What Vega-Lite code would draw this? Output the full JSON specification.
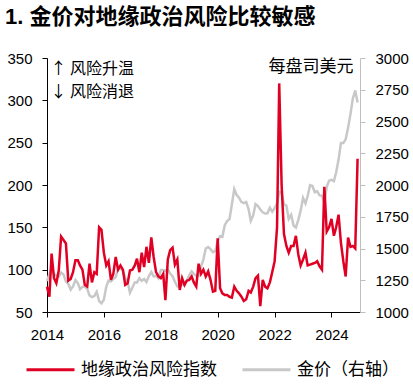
{
  "$schema": "https://vega.github.io/schema/vega-lite/v6.json",
  "width": 313,
  "height": 254,
  "autosize": {"type": "none"},
  "padding": {"left": 47, "top": 58, "right": 53, "bottom": 74},
  "background": "white",
  "config": {
    "view": {"stroke": null},
    "font": "Liberation Sans, Noto Sans CJK SC",
    "axis": {"grid": false, "labelColor": "#000000", "labelFont": "Liberation Sans", "labelFontSize": 15, "tickSize": 5, "labelPadding": 9, "domainColor": "#000000", "tickColor": "#000000", "titleColor": "#000000"}
  },
  "title": {
    "text": "1. 金价对地缘政治风险比较敏感",
    "anchor": "start",
    "frame": "group",
    "dx": -42,
    "offset": 22,
    "fontSize": 22,
    "fontWeight": "bold",
    "font": "Liberation Sans, Noto Sans CJK SC",
    "color": "#000000"
  },
  "datasets": {
    "risk": [
      {"date":"2014-01","value":80},{"date":"2014-02","value":68},{"date":"2014-03","value":119},{"date":"2014-04","value":90},{"date":"2014-05","value":84},{"date":"2014-06","value":99},{"date":"2014-07","value":139},{"date":"2014-08","value":135},{"date":"2014-09","value":131},{"date":"2014-10","value":87},{"date":"2014-11","value":89},{"date":"2014-12","value":97},
      {"date":"2015-01","value":111},{"date":"2015-02","value":111},{"date":"2015-03","value":105},{"date":"2015-04","value":100},{"date":"2015-05","value":82},{"date":"2015-06","value":80},{"date":"2015-07","value":107},{"date":"2015-08","value":85},{"date":"2015-09","value":97},{"date":"2015-10","value":95},{"date":"2015-11","value":150},{"date":"2015-12","value":147},
      {"date":"2016-01","value":120},{"date":"2016-02","value":105},{"date":"2016-03","value":110},{"date":"2016-04","value":88},{"date":"2016-05","value":95},{"date":"2016-06","value":115},{"date":"2016-07","value":100},{"date":"2016-08","value":105},{"date":"2016-09","value":100},{"date":"2016-10","value":82},{"date":"2016-11","value":84},{"date":"2016-12","value":99},
      {"date":"2017-01","value":100},{"date":"2017-02","value":105},{"date":"2017-03","value":113},{"date":"2017-04","value":97},{"date":"2017-05","value":120},{"date":"2017-06","value":103},{"date":"2017-07","value":127},{"date":"2017-08","value":108},{"date":"2017-09","value":138},{"date":"2017-10","value":115},{"date":"2017-11","value":97},{"date":"2017-12","value":92},
      {"date":"2018-01","value":90},{"date":"2018-02","value":95},{"date":"2018-03","value":64},{"date":"2018-04","value":112},{"date":"2018-05","value":123},{"date":"2018-06","value":126},{"date":"2018-07","value":106},{"date":"2018-08","value":112},{"date":"2018-09","value":76},{"date":"2018-10","value":90},{"date":"2018-11","value":82},{"date":"2018-12","value":87},
      {"date":"2019-01","value":88},{"date":"2019-02","value":92},{"date":"2019-03","value":85},{"date":"2019-04","value":80},{"date":"2019-05","value":107},{"date":"2019-06","value":95},{"date":"2019-07","value":100},{"date":"2019-08","value":92},{"date":"2019-09","value":98},{"date":"2019-10","value":88},{"date":"2019-11","value":74},{"date":"2019-12","value":75},
      {"date":"2020-01","value":137},{"date":"2020-02","value":78},{"date":"2020-03","value":72},{"date":"2020-04","value":70},{"date":"2020-05","value":70},{"date":"2020-06","value":68},{"date":"2020-07","value":67},{"date":"2020-08","value":80},{"date":"2020-09","value":75},{"date":"2020-10","value":72},{"date":"2020-11","value":68},{"date":"2020-12","value":63},
      {"date":"2021-01","value":65},{"date":"2021-02","value":75},{"date":"2021-03","value":73},{"date":"2021-04","value":80},{"date":"2021-05","value":90},{"date":"2021-06","value":93},{"date":"2021-07","value":57},{"date":"2021-08","value":88},{"date":"2021-09","value":80},{"date":"2021-10","value":78},{"date":"2021-11","value":85},{"date":"2021-12","value":97},
      {"date":"2022-01","value":110},{"date":"2022-02","value":150},{"date":"2022-03","value":320},{"date":"2022-04","value":200},{"date":"2022-05","value":142},{"date":"2022-06","value":128},{"date":"2022-07","value":120},{"date":"2022-08","value":128},{"date":"2022-09","value":128},{"date":"2022-10","value":140},{"date":"2022-11","value":118},{"date":"2022-12","value":105},
      {"date":"2023-01","value":112},{"date":"2023-02","value":120},{"date":"2023-03","value":105},{"date":"2023-04","value":106},{"date":"2023-05","value":107},{"date":"2023-06","value":108},{"date":"2023-07","value":110},{"date":"2023-08","value":104},{"date":"2023-09","value":100},{"date":"2023-10","value":198},{"date":"2023-11","value":145},{"date":"2023-12","value":150},
      {"date":"2024-01","value":160},{"date":"2024-02","value":140},{"date":"2024-03","value":150},{"date":"2024-04","value":165},{"date":"2024-05","value":132},{"date":"2024-06","value":110},{"date":"2024-07","value":92},{"date":"2024-08","value":138},{"date":"2024-09","value":127},{"date":"2024-10","value":128},{"date":"2024-11","value":125},{"date":"2024-12","value":231}
    ],
    "gold": [
      {"date":"2014-01","value":1244},{"date":"2014-02","value":1300},{"date":"2014-03","value":1336},{"date":"2014-04","value":1299},{"date":"2014-05","value":1288},{"date":"2014-06","value":1279},{"date":"2014-07","value":1311},{"date":"2014-08","value":1296},{"date":"2014-09","value":1239},{"date":"2014-10","value":1222},{"date":"2014-11","value":1176},{"date":"2014-12","value":1201},
      {"date":"2015-01","value":1251},{"date":"2015-02","value":1227},{"date":"2015-03","value":1179},{"date":"2015-04","value":1198},{"date":"2015-05","value":1199},{"date":"2015-06","value":1182},{"date":"2015-07","value":1131},{"date":"2015-08","value":1117},{"date":"2015-09","value":1125},{"date":"2015-10","value":1159},{"date":"2015-11","value":1086},{"date":"2015-12","value":1068},
      {"date":"2016-01","value":1097},{"date":"2016-02","value":1200},{"date":"2016-03","value":1246},{"date":"2016-04","value":1242},{"date":"2016-05","value":1260},{"date":"2016-06","value":1276},{"date":"2016-07","value":1337},{"date":"2016-08","value":1340},{"date":"2016-09","value":1326},{"date":"2016-10","value":1266},{"date":"2016-11","value":1238},{"date":"2016-12","value":1152},
      {"date":"2017-01","value":1192},{"date":"2017-02","value":1234},{"date":"2017-03","value":1231},{"date":"2017-04","value":1266},{"date":"2017-05","value":1246},{"date":"2017-06","value":1260},{"date":"2017-07","value":1236},{"date":"2017-08","value":1283},{"date":"2017-09","value":1314},{"date":"2017-10","value":1280},{"date":"2017-11","value":1284},{"date":"2017-12","value":1265},
      {"date":"2018-01","value":1331},{"date":"2018-02","value":1331},{"date":"2018-03","value":1325},{"date":"2018-04","value":1335},{"date":"2018-05","value":1303},{"date":"2018-06","value":1282},{"date":"2018-07","value":1238},{"date":"2018-08","value":1202},{"date":"2018-09","value":1198},{"date":"2018-10","value":1215},{"date":"2018-11","value":1221},{"date":"2018-12","value":1250},
      {"date":"2019-01","value":1291},{"date":"2019-02","value":1320},{"date":"2019-03","value":1300},{"date":"2019-04","value":1286},{"date":"2019-05","value":1284},{"date":"2019-06","value":1359},{"date":"2019-07","value":1413},{"date":"2019-08","value":1500},{"date":"2019-09","value":1511},{"date":"2019-10","value":1495},{"date":"2019-11","value":1471},{"date":"2019-12","value":1480},
      {"date":"2020-01","value":1560},{"date":"2020-02","value":1597},{"date":"2020-03","value":1592},{"date":"2020-04","value":1683},{"date":"2020-05","value":1716},{"date":"2020-06","value":1732},{"date":"2020-07","value":1846},{"date":"2020-08","value":1968},{"date":"2020-09","value":1921},{"date":"2020-10","value":1900},{"date":"2020-11","value":1866},{"date":"2020-12","value":1858},
      {"date":"2021-01","value":1867},{"date":"2021-02","value":1808},{"date":"2021-03","value":1718},{"date":"2021-04","value":1760},{"date":"2021-05","value":1850},{"date":"2021-06","value":1834},{"date":"2021-07","value":1807},{"date":"2021-08","value":1785},{"date":"2021-09","value":1775},{"date":"2021-10","value":1777},{"date":"2021-11","value":1821},{"date":"2021-12","value":1790},
      {"date":"2022-01","value":1817},{"date":"2022-02","value":1856},{"date":"2022-03","value":1948},{"date":"2022-04","value":1937},{"date":"2022-05","value":1849},{"date":"2022-06","value":1837},{"date":"2022-07","value":1733},{"date":"2022-08","value":1765},{"date":"2022-09","value":1681},{"date":"2022-10","value":1665},{"date":"2022-11","value":1726},{"date":"2022-12","value":1798},
      {"date":"2023-01","value":1898},{"date":"2023-02","value":1855},{"date":"2023-03","value":1913},{"date":"2023-04","value":1999},{"date":"2023-05","value":1992},{"date":"2023-06","value":1943},{"date":"2023-07","value":1951},{"date":"2023-08","value":1918},{"date":"2023-09","value":1916},{"date":"2023-10","value":1860},{"date":"2023-11","value":1985},{"date":"2023-12","value":2034},
      {"date":"2024-01","value":2040},{"date":"2024-02","value":2030},{"date":"2024-03","value":2100},{"date":"2024-04","value":2200},{"date":"2024-05","value":2330},{"date":"2024-06","value":2330},{"date":"2024-07","value":2360},{"date":"2024-08","value":2450},{"date":"2024-09","value":2560},{"date":"2024-10","value":2680},{"date":"2024-11","value":2745},{"date":"2024-12","value":2650}
    ]
  },
  "layer": [
    {
      "data": {"name": "gold"},
      "mark": {"type": "line", "strokeWidth": 2.5, "interpolate": "linear"},
      "encoding": {
        "x": {
          "field": "date", "type": "temporal",
          "scale": {"type": "utc", "domain": ["2014-01-01", "2025-01-01"]},
          "axis": {
            "title": null,
            "values": [
              {"year": 2014, "utc": true}, {"year": 2015, "utc": true}, {"year": 2016, "utc": true}, {"year": 2017, "utc": true},
              {"year": 2018, "utc": true}, {"year": 2019, "utc": true}, {"year": 2020, "utc": true}, {"year": 2021, "utc": true},
              {"year": 2022, "utc": true}, {"year": 2023, "utc": true}, {"year": 2024, "utc": true}, {"year": 2025, "utc": true}
            ],
            "labelExpr": "utcyear(datum.value) % 2 == 0 && utcyear(datum.value) < 2025 ? utcFormat(datum.value, '%Y') : ''",
            "labelAngle": 0,
            "labelFlush": false,
            "labelOverlap": false,
            "labelPadding": 10
          }
        },
        "y": {
          "field": "value", "type": "quantitative",
          "scale": {"domain": [1000, 3000], "nice": false, "zero": false},
          "axis": {
            "orient": "right",
            "values": [1000, 1250, 1500, 1750, 2000, 2250, 2500, 2750, 3000],
            "format": "d",
            "domainColor": "#BFBFBF",
            "tickColor": "#BFBFBF",
            "labelPadding": 10,
            "title": "每盘司美元",
            "titleAngle": 0,
            "titleAlign": "right",
            "titleBaseline": "middle",
            "titleX": -7,
            "titleY": 8,
            "titleFont": "Noto Sans CJK SC",
            "titleFontSize": 17,
            "titleFontWeight": "normal"
          }
        },
        "color": {
          "datum": "金价（右轴）",
          "scale": {"domain": ["地缘政治风险指数", "金价（右轴）"], "range": ["#DF0024", "#C8C8C8"]},
          "legend": {
            "orient": "none",
            "legendX": -22,
            "legendY": 286,
            "direction": "horizontal",
            "title": null,
            "symbolType": "stroke",
            "symbolSize": 2304,
            "symbolStrokeWidth": 3,
            "labelFont": "Noto Sans CJK SC",
            "labelFontSize": 17,
            "labelColor": "#000000",
            "labelOffset": 5,
            "columnPadding": 19,
            "labelLimit": 300
          }
        }
      }
    },
    {
      "data": {"name": "risk"},
      "mark": {"type": "line", "strokeWidth": 2.5, "interpolate": "linear"},
      "encoding": {
        "x": {"field": "date", "type": "temporal"},
        "y": {
          "field": "value", "type": "quantitative",
          "scale": {"domain": [50, 350], "nice": false, "zero": false},
          "axis": {
            "orient": "left",
            "values": [50, 100, 150, 200, 250, 300, 350],
            "labelPadding": 10,
            "title": ["↑ 风险升温", "↓ 风险消退"],
            "titleAngle": 0,
            "titleAlign": "left",
            "titleBaseline": "top",
            "titleX": 3,
            "titleY": 2,
            "titleFont": "Noto Sans CJK SC",
            "titleFontSize": 16,
            "titleFontWeight": "normal",
            "titleLineHeight": 23
          }
        },
        "color": {"datum": "地缘政治风险指数"}
      }
    }
  ],
  "resolve": {"scale": {"y": "independent"}}
}
